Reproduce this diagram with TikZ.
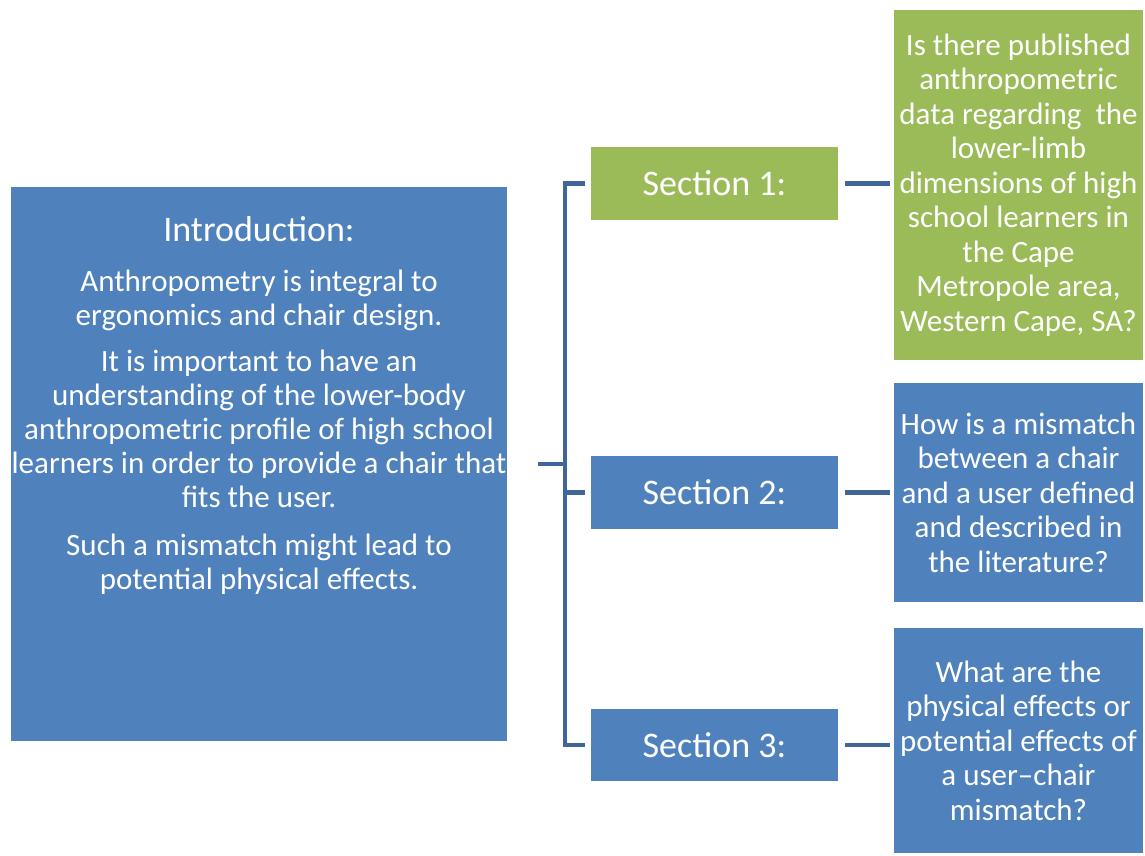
\documentclass[tikz,border=0pt]{standalone}
\usepackage{fontspec}
\setmainfont{Carlito}
\definecolor{boxblue}{HTML}{4F81BD}
\definecolor{boxgreen}{HTML}{9BBB59}
\definecolor{linkblue}{HTML}{3F659B}
\begin{document}
\begin{tikzpicture}[x=1pt,y=-1pt,
  box/.style={rectangle, inner sep=0pt, outer sep=0pt, text=white, align=center},
  bluebox/.style={box, fill=boxblue},
  greenbox/.style={box, fill=boxgreen},
  link/.style={draw=linkblue, line width=4.8pt},
  qfont/.style={font=\fontsize{31}{34.5}\selectfont},
  sfont/.style={font=\fontsize{36}{38}\selectfont}
]
\useasboundingbox (0,0) rectangle (1145,856);
% introduction box
\node[bluebox, anchor=north west, minimum width=496pt, minimum height=554pt] (intro) at (11,187) {};
\node[box, anchor=north, font=\fontsize{31}{34}\selectfont] (introtext) at (259,216) {%
{\fontsize{36}{38}\selectfont Introduction:}\\[16pt]
Anthropometry is integral to\\
ergonomics and chair design.\\[12pt]
It is important to have an\\
understanding of the lower-body\\
anthropometric profile of high school\\
learners in order to provide a chair that\\
fits the user.\\[14pt]
Such a mismatch might lead to\\
potential physical effects.};
% section boxes
\node[greenbox, sfont, anchor=north west, minimum width=247pt, minimum height=73pt] (s1) at (591,147) {Section 1:};
\node[bluebox, sfont, anchor=north west, minimum width=247pt, minimum height=73pt] (s2) at (591,456) {Section 2:};
\node[bluebox, sfont, anchor=north west, minimum width=247pt, minimum height=72pt] (s3) at (591,709) {Section 3:};
% question boxes
\node[greenbox, qfont, anchor=north west, minimum width=249pt, minimum height=350pt] (q1) at (894,10) {Is there published\\anthropometric\\data regarding~ the\\lower-limb\\dimensions of high\\school learners in\\the Cape\\Metropole area,\\Western Cape, SA?};
\node[bluebox, qfont, anchor=north west, minimum width=249pt, minimum height=219pt] (q2) at (894,383) {How is a mismatch\\between a chair\\and a user defined\\and described in\\the literature?};
\node[bluebox, qfont, anchor=north west, minimum width=249pt, minimum height=225pt] (q3) at (894,628) {What are the\\physical effects or\\potential effects of\\a user--chair\\mismatch?};
% bracket connectors
\coordinate (stub) at (538,464);
\coordinate (spine) at (565,464);
\draw[link] (stub) -- (spine);
\draw[link, line join=miter] ([xshift=-6pt]s1.west) -- (spine |- s1.west) -- (spine |- s3.west) -- ([xshift=-6pt]s3.west);
\draw[link] (spine |- s2.west) -- ([xshift=-6pt]s2.west);
% section to question connectors
\draw[link] ([xshift=7pt]s1.east) -- ([xshift=-4pt]q1.west |- s1.east);
\draw[link] ([xshift=7pt]s2.east) -- ([xshift=-4pt]q2.west |- s2.east);
\draw[link] ([xshift=7pt]s3.east) -- ([xshift=-4pt]q3.west |- s3.east);
\end{tikzpicture}
\end{document}
